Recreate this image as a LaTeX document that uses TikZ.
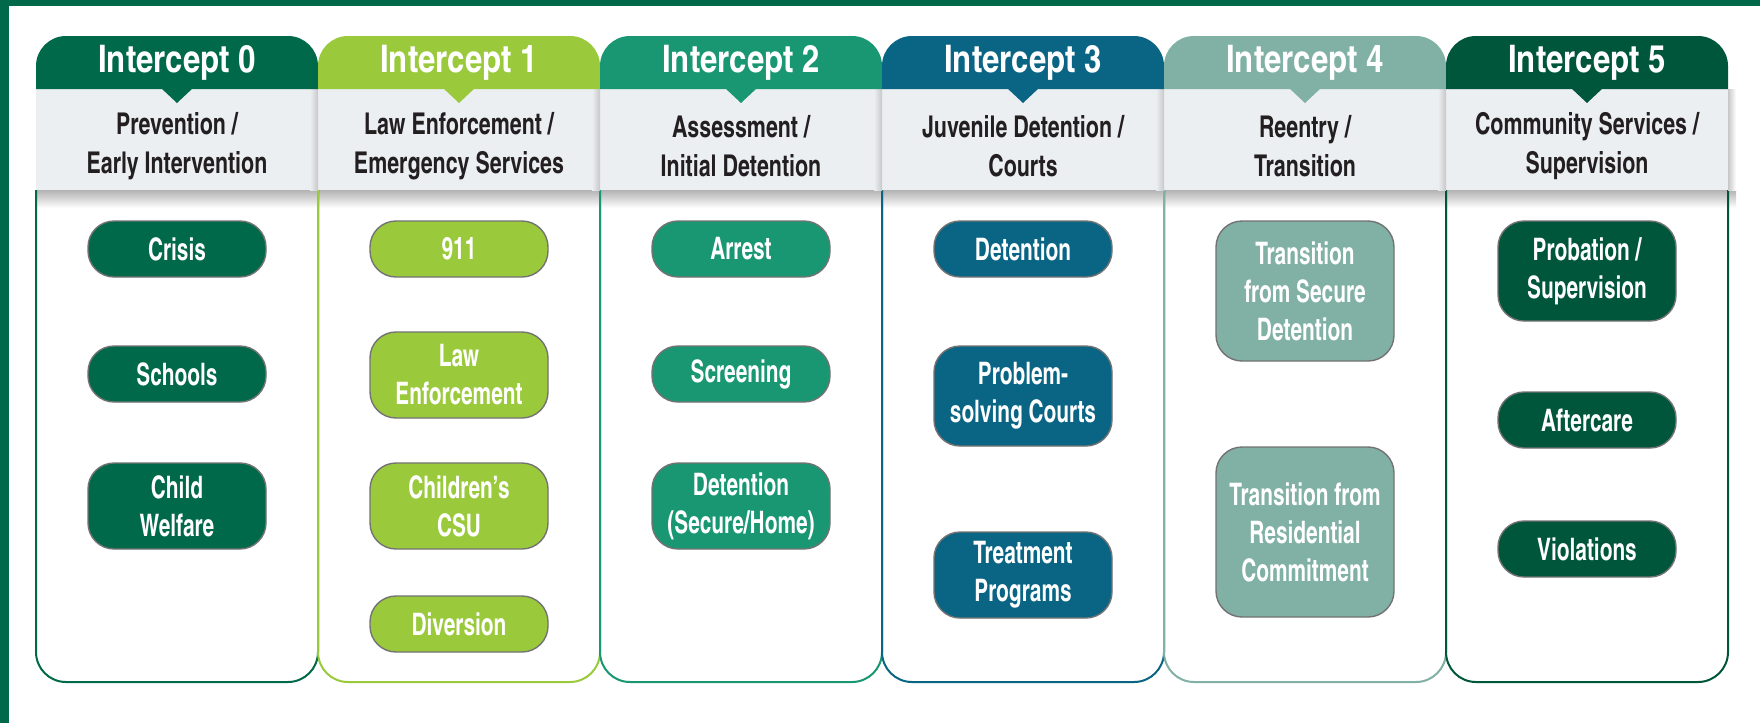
\documentclass[tikz,border=0pt]{standalone}
\usepackage{fontspec}
\setmainfont{texgyreheroscn}[Extension=.otf, UprightFont=*-bold, BoldFont=*-bold]
\newfontfamily\tabfont{texgyreheroscn}[Extension=.otf, UprightFont=*-bold]
\newfontfamily\bandfont{texgyreheroscn}[Extension=.otf, UprightFont=*-bold, FakeStretch=0.87]
\newfontfamily\itemfont{texgyreheroscn}[Extension=.otf, UprightFont=*-bold, FakeStretch=0.82]

\definecolor{framegreen}{HTML}{00694A}
\definecolor{icpzero}{HTML}{00694A}
\definecolor{icpone}{HTML}{9ACA3C}
\definecolor{icptwo}{HTML}{189772}
\definecolor{icpthree}{HTML}{0A6584}
\definecolor{icpfour}{HTML}{80B1A4}
\definecolor{icpfive}{HTML}{00563A}
\definecolor{bandgray}{HTML}{ECEFF2}
\definecolor{textdark}{HTML}{231F20}

\begin{document}
\begin{tikzpicture}[x=0.5pt,y=-0.5pt]
\tikzset{every node/.style={inner sep=0pt}}
\tikzset{tabtext/.style={anchor=base, text=white, font=\tabfont\fontsize{19}{22}\selectfont}}
\tikzset{bandtext/.style={text=textdark, align=center, font=\bandfont\fontsize{15}{19.5}\selectfont}}
\tikzset{item/.style={draw=black!55, line width=0.7pt, rounded corners=13pt, minimum width=89pt, minimum height=28pt, inner xsep=2pt, align=center, text=white, font=\itemfont\fontsize{15.5}{19}\selectfont}}
\tikzset{body/.style={line width=1pt, rounded corners=15pt}}

\useasboundingbox (0,0) rectangle (1760,723);
\fill[white] (0,0) rectangle (1760,723);

% Frame
\fill[framegreen] (0,0) rectangle (1760,6);
\fill[framegreen] (0,0) rectangle (9,723);

% Shadow under the gray band
\shade[top color=black!30, bottom color=white] (36,190) rectangle (1736,208);

% Column bodies
\draw[icpzero, body] (36,190) -- (36,682) -- (318,682) -- (318,190);
\draw[icpone, body] (318,190) -- (318,682) -- (600,682) -- (600,190);
\draw[icptwo, body] (600,190) -- (600,682) -- (882,682) -- (882,190);
\draw[icpthree, body] (882,190) -- (882,682) -- (1164,682) -- (1164,190);
\draw[icpfour, body] (1164,190) -- (1164,682) -- (1446,682) -- (1446,190);
\draw[icpfive, body] (1446,190) -- (1446,682) -- (1728,682) -- (1728,190);

% Gray band with edge shadows
\fill[bandgray] (36,89) rectangle (1728,190);
\shade[left color=bandgray, right color=black!22] (310,89) rectangle (318,190);
\shade[left color=bandgray, right color=black!22] (592,89) rectangle (600,190);
\shade[left color=bandgray, right color=black!22] (874,89) rectangle (882,190);
\shade[left color=bandgray, right color=black!22] (1156,89) rectangle (1164,190);
\shade[left color=bandgray, right color=black!22] (1438,89) rectangle (1446,190);
\shade[left color=black!22, right color=white] (1728,89) rectangle (1736,190);

% Tabs and pointers
\fill[icpzero] (36,89) [rounded corners=15pt] -- (36,36) -- (318,36) [sharp corners] -- (318,89) -- cycle;
\fill[icpone] (318,89) [rounded corners=15pt] -- (318,36) -- (600,36) [sharp corners] -- (600,89) -- cycle;
\fill[icptwo] (600,89) [rounded corners=15pt] -- (600,36) -- (882,36) [sharp corners] -- (882,89) -- cycle;
\fill[icpthree] (882,89) [rounded corners=15pt] -- (882,36) -- (1164,36) [sharp corners] -- (1164,89) -- cycle;
\fill[icpfour] (1164,89) [rounded corners=15pt] -- (1164,36) -- (1446,36) [sharp corners] -- (1446,89) -- cycle;
\fill[icpfive] (1446,89) [rounded corners=15pt] -- (1446,36) -- (1728,36) [sharp corners] -- (1728,89) -- cycle;

\fill[icpzero] (161,88) -- (193,88) -- (177,103) -- cycle;
\fill[icpone] (443,88) -- (475,88) -- (459,103) -- cycle;
\fill[icptwo] (725,88) -- (757,88) -- (741,103) -- cycle;
\fill[icpthree] (1007,88) -- (1039,88) -- (1023,103) -- cycle;
\fill[icpfour] (1289,88) -- (1321,88) -- (1305,103) -- cycle;
\fill[icpfive] (1571,88) -- (1603,88) -- (1587,103) -- cycle;

% Headers
\node[tabtext] (tab0) at (177,72) {Intercept 0};
\node[tabtext] (tab1) at (459,72) {Intercept 1};
\node[tabtext] (tab2) at (741,72) {Intercept 2};
\node[tabtext] (tab3) at (1023,72) {Intercept 3};
\node[tabtext] (tab4) at (1305,72) {Intercept 4};
\node[tabtext] (tab5) at (1587,72) {Intercept 5};

\node[bandtext] (band0) at (177,146) {Prevention /\\Early Intervention};
\node[bandtext] (band1) at (459,146) {Law Enforcement /\\Emergency Services};
\node[bandtext] (band2) at (741,146) {Assessment /\\Initial Detention};
\node[bandtext] (band3) at (1023,146) {Juvenile Detention /\\Courts};
\node[bandtext] (band4) at (1305,146) {Reentry /\\Transition};
\node[bandtext] (band5) at (1587,146) {Community Services /\\Supervision};

% Intercept 0
\node[item, fill=icpzero] (crisis) at (177,249) {Crisis};
\node[item, fill=icpzero] (schools) at (177,374) {Schools};
\node[item, fill=icpzero, minimum height=43pt] (welfare) at (177,506) {Child\\Welfare};

% Intercept 1
\node[item, fill=icpone] (call) at (459,249) {911};
\node[item, fill=icpone, minimum height=43pt] (lawenf) at (459,375) {Law\\Enforcement};
\node[item, fill=icpone, minimum height=43pt] (csu) at (459,506) {Children’s\\CSU};
\node[item, fill=icpone] (diversion) at (459,624) {Diversion};

% Intercept 2
\node[item, fill=icptwo] (arrest) at (741,249) {Arrest};
\node[item, fill=icptwo] (screening) at (741,374) {Screening};
\node[item, fill=icptwo, minimum height=43pt] (initdet) at (741,506) {Detention\\(Secure/Home)};

% Intercept 3
\node[item, fill=icpthree] (detention) at (1023,249) {Detention};
\node[item, fill=icpthree, minimum height=50pt] (courts) at (1023,396) {Problem-\\solving Courts};
\node[item, fill=icpthree, minimum height=43pt] (treatment) at (1023,575) {Treatment\\Programs};

% Intercept 4
\node[item, fill=icpfour, minimum height=70pt] (secure) at (1305,291) {Transition\\from Secure\\Detention};
\node[item, fill=icpfour, minimum height=85pt] (residential) at (1305,532) {Transition from\\Residential\\Commitment};

% Intercept 5
\node[item, fill=icpfive, minimum height=50pt] (probation) at (1587,271) {Probation /\\Supervision};
\node[item, fill=icpfive] (aftercare) at (1587,420) {Aftercare};
\node[item, fill=icpfive] (violations) at (1587,549) {Violations};

\end{tikzpicture}
\end{document}
